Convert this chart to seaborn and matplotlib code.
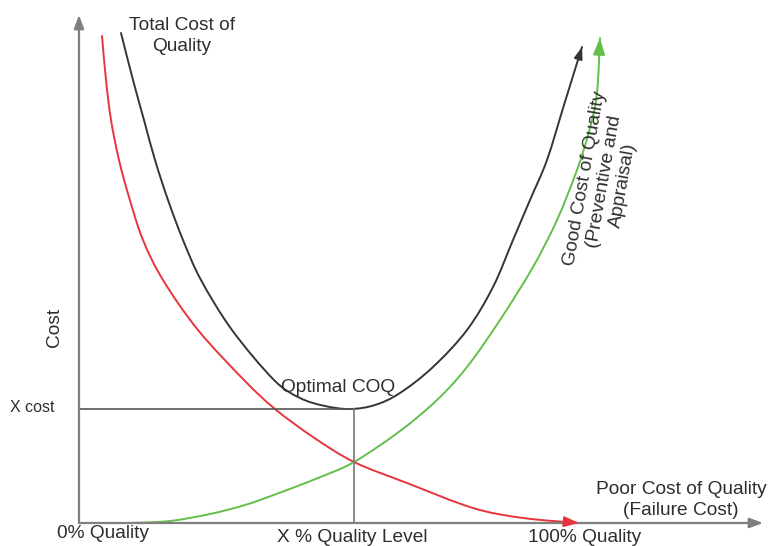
import numpy as np
import matplotlib.pyplot as plt
import seaborn as sns
from matplotlib.path import Path
from matplotlib.patches import PathPatch

# --- Curves (x = quality level %, y = cost) ---
failure_q = [4.6, 5.4, 6.4, 8.0, 10.0, 12.8, 16.8, 23.8, 33.0, 39.2, 46.8, 55.0, 65.6, 78.8, 88.8, 100.0]
failure_c = [97.4, 88.6, 80.6, 72.6, 65.2, 56.6, 48.6, 38.6, 28.6, 22.8, 17.2, 12.2, 8.0, 3.0, 1.0, 0.0]

total_q = [8.4, 10.8, 13.0, 15.2, 17.8, 20.8, 24.4, 30.6, 39.0, 44.2, 49.2, 54.2, 59.2, 64.2,
           70.8, 77.6, 82.8, 86.8, 90.2, 93.6, 97.0, 100.6]
total_c = [98.0, 88.6, 80.6, 72.6, 64.6, 56.6, 48.6, 38.6, 28.6, 25.0, 23.4, 22.8, 23.6, 26.0,
           31.2, 38.6, 47.2, 56.6, 64.6, 72.6, 83.6, 95.2]

good_q = [10.0, 18.2, 26.2, 33.2, 40.0, 47.8, 55.0, 64.2, 71.6, 77.6, 84.2, 90.8, 95.6, 99.6, 102.2, 103.6, 104.2]
good_c = [0.0, 0.4, 1.8, 3.6, 6.0, 9.0, 12.2, 18.4, 24.6, 31.2, 40.6, 51.2, 60.6, 70.6, 79.0, 86.0, 97.0]

optimal_q = 55.0
optimal_c = 22.8
axis_top = 101.6
axis_right = 136.8

sns.set_style("white")
plt.rcParams['font.family'] = ['Liberation Sans', 'DejaVu Sans']

fig = plt.figure(figsize=(7.68, 5.46), dpi=100)
ax = fig.add_axes([0, 0, 1, 1])
ax.set_xlim(-15.8, 137.8)
ax.set_ylim(-4.6, 104.6)
ax.axis("off")

red = "#e8343c"
dark = "#353535"
green = "#62c04a"
axis_gray = "#7f7f7f"
txt = "#2e2e2e"


def smooth_curve(xs, ys, color, head):
    # smooth path through the read points (Catmull-Rom as cubic Bezier)
    p = np.column_stack([xs, ys])
    pe = np.vstack([p[0], p, p[-1]])
    verts = [p[0]]
    codes = [Path.MOVETO]
    c2 = p[-2]
    for i in range(len(p) - 1):
        c1 = pe[i + 1] + (pe[i + 2] - pe[i]) / 6
        c2 = pe[i + 2] - (pe[i + 3] - pe[i + 1]) / 6
        verts += [c1, c2, pe[i + 2]]
        codes += [Path.CURVE4] * 3
    ax.add_patch(PathPatch(Path(verts, codes), fill=False, edgecolor=color, lw=1.4, capstyle="round"))
    d = p[-1] - c2
    d = d / np.hypot(*d)
    ax.annotate("", xy=tuple(p[-1]), xytext=tuple(p[-1] - 2.5 * d),
                arrowprops=dict(arrowstyle=head, color=color, lw=1.4, shrinkA=0, shrinkB=0))


# axes with arrow heads
ax.annotate("", xy=(0, axis_top), xytext=(0, 0),
            arrowprops=dict(arrowstyle="-|>,head_length=0.8,head_width=0.3", color=axis_gray, lw=1.6,
                            shrinkA=0, shrinkB=0))
ax.annotate("", xy=(axis_right, 0), xytext=(0, 0),
            arrowprops=dict(arrowstyle="-|>,head_length=0.8,head_width=0.3", color=axis_gray, lw=1.6,
                            shrinkA=0, shrinkB=0))

# optimal guide lines
sns.lineplot(x=[0, optimal_q], y=[optimal_c, optimal_c], color="#555555", lw=1.2, ax=ax)
sns.lineplot(x=[optimal_q, optimal_q], y=[0, optimal_c], color="#777777", lw=1.2, ax=ax, orient="y")

# curves
smooth_curve(failure_q, failure_c, red, "-|>,head_length=0.9,head_width=0.32")
smooth_curve(total_q, total_c, dark, "-|>,head_length=0.7,head_width=0.25")
smooth_curve(good_q, good_c, green, "-|>,head_length=1.0,head_width=0.36")

# labels
fs = 13.8
ax.text(20.6, 97.4, "Total Cost of\nQuality", ha="center", va="center", fontsize=fs, color=txt, linespacing=1.3)
ax.text(51.8, 27.0, "Optimal COQ", ha="center", va="center", fontsize=fs, color=txt)
ax.text(-9.4, 23.0, "X cost", ha="center", va="center", fontsize=11.5, color=txt)
ax.text(-4.8, 39.2, "Cost", ha="center", va="center", fontsize=fs, color=txt, rotation=90)
ax.text(4.8, -2.0, "0% Quality", ha="center", va="center", fontsize=fs, color=txt)
ax.text(54.6, -2.9, "X % Quality Level", ha="center", va="center", fontsize=fs, color=txt)
ax.text(101.2, -2.8, "100% Quality", ha="center", va="center", fontsize=fs, color=txt)
ax.text(120.4, 4.6, "Poor Cost of Quality\n(Failure Cost)", ha="center", va="center", fontsize=fs,
        color=txt, linespacing=1.25)
ax.text(105.0, 68.2, "Good Cost of Quality\n(Preventive and\nAppraisal)", ha="center", va="center",
        fontsize=fs, color=txt, rotation=80, rotation_mode="anchor", linespacing=1.15)

fig.savefig("out.png", dpi=100)
